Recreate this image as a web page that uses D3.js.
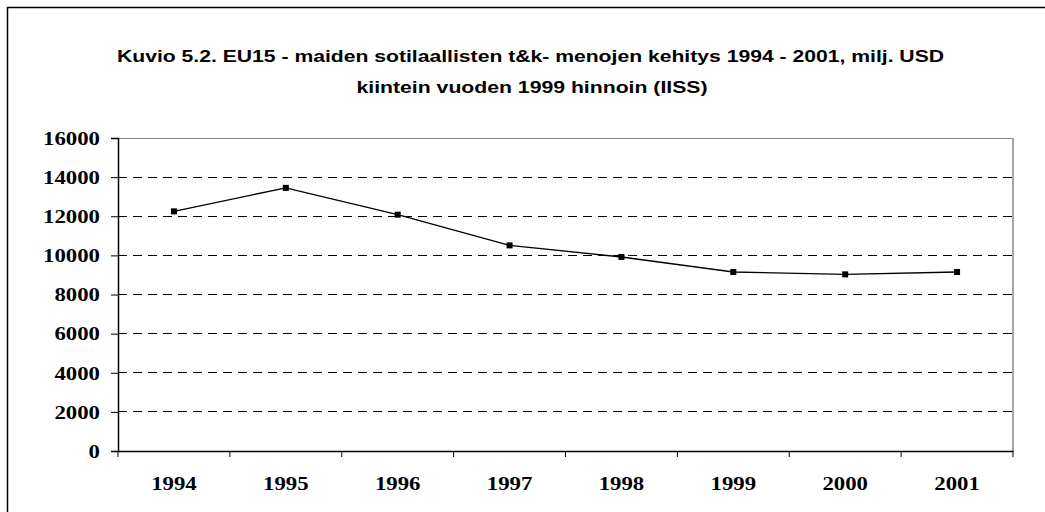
<!DOCTYPE html>
<html>
<head>
<meta charset="utf-8">
<script src="https://cdn.jsdelivr.net/npm/d3@7"></script>
<style>
  body { margin: 0; background: #fff; }
  svg { display: block; }
</style>
</head>
<body>
<svg id="chart" width="1045" height="512"></svg>
<script>
var years = ['1994', '1995', '1996', '1997', '1998', '1999', '2000', '2001'];
var spending = [12250, 13450, 12080, 10510, 9920, 9150, 9030, 9150];
var yTicks = [0, 2000, 4000, 6000, 8000, 10000, 12000, 14000, 16000];
var titleLines = [
  'Kuvio 5.2. EU15 - maiden sotilaallisten t&k- menojen kehitys 1994 - 2001, milj. USD',
  'kiintein vuoden 1999 hinnoin (IISS)'
];

var svg = d3.select('#chart');
var plotLeft = 118, plotRight = 1013, plotTop = 138, plotBottom = 451;

// outer frame (runs off right/bottom edges)
svg.append('rect')
  .attr('x', 7.5).attr('y', 7.5)
  .attr('width', 1060).attr('height', 520)
  .attr('fill', 'none').attr('stroke', '#000').attr('stroke-width', 1.5);

svg.selectAll('text.title')
  .data(titleLines)
  .enter().append('text')
  .attr('class', 'title')
  .attr('x', function(d, i) { return i === 0 ? 530.5 : 532; })
  .attr('y', function(d, i) { return 62 + i * 31; })
  .attr('text-anchor', 'middle')
  .attr('font-family', 'Liberation Sans, Arial, sans-serif')
  .attr('font-weight', 'bold')
  .attr('font-size', 16)
  .attr('textLength', function(d, i) { return i === 0 ? 827 : 351; })
  .attr('lengthAdjust', 'spacingAndGlyphs')
  .attr('fill', '#000')
  .text(function(d) { return d; });

var x = d3.scaleBand().domain(years).range([plotLeft, plotRight]);
var y = d3.scaleLinear().domain([0, 16000]).range([plotBottom, plotTop]);

// gridlines
svg.append('g').selectAll('line')
  .data(yTicks.filter(function(d) { return d > 0; }))
  .enter().append('line')
  .attr('x1', plotLeft).attr('x2', plotRight)
  .attr('y1', function(d) { return y(d); })
  .attr('y2', function(d) { return y(d); })
  .attr('stroke', function(d) { return d === 16000 ? '#888' : '#000'; })
  .attr('stroke-width', 1)
  .attr('stroke-dasharray', function(d) { return d === 16000 ? null : '9,6'; })
  .attr('shape-rendering', 'crispEdges');

// right border of plot area
svg.append('line')
  .attr('x1', plotRight).attr('x2', plotRight)
  .attr('y1', plotTop).attr('y2', plotBottom)
  .attr('stroke', '#888').attr('stroke-width', 1.5);

var yAxis = svg.append('g')
  .attr('transform', 'translate(' + plotLeft + ',0)')
  .call(d3.axisLeft(y).tickValues(yTicks).tickSize(7).tickPadding(11).tickFormat(d3.format('d')));

var xAxis = svg.append('g')
  .attr('transform', 'translate(0,' + plotBottom + ')')
  .call(d3.axisBottom(x).tickSize(0).tickPadding(26));

// category-boundary ticks on the x axis
xAxis.selectAll('line.bound')
  .data(d3.range(years.length + 1))
  .enter().append('line')
  .attr('class', 'bound')
  .attr('x1', function(i) { return plotLeft + i * x.step(); })
  .attr('x2', function(i) { return plotLeft + i * x.step(); })
  .attr('y1', 0).attr('y2', 6)
  .attr('stroke', '#000');

[yAxis, xAxis].forEach(function(ax) {
  ax.select('.domain').attr('stroke', '#000').attr('stroke-width', 1.5);
  ax.selectAll('.tick line').attr('stroke', '#000');
  ax.selectAll('text')
    .attr('font-family', 'Liberation Serif, Times New Roman, serif')
    .attr('font-weight', 'bold')
    .attr('font-size', 18)
    .attr('fill', '#000')
    .attr('textLength', function(d) { return String(d).length * 11.4; })
    .attr('lengthAdjust', 'spacingAndGlyphs');
});
yAxis.selectAll('text').attr('dy', '0.35em');

var line = d3.line()
  .x(function(d, i) { return x(years[i]) + x.bandwidth() / 2; })
  .y(function(d) { return y(d); });

svg.append('path')
  .datum(spending)
  .attr('d', line)
  .attr('fill', 'none')
  .attr('stroke', '#000')
  .attr('stroke-width', 1.4);

svg.selectAll('rect.marker')
  .data(spending)
  .enter().append('rect')
  .attr('class', 'marker')
  .attr('x', function(d, i) { return x(years[i]) + x.bandwidth() / 2 - 3; })
  .attr('y', function(d) { return y(d) - 3; })
  .attr('width', 6).attr('height', 6)
  .attr('fill', '#000');
</script>
</body>
</html>
